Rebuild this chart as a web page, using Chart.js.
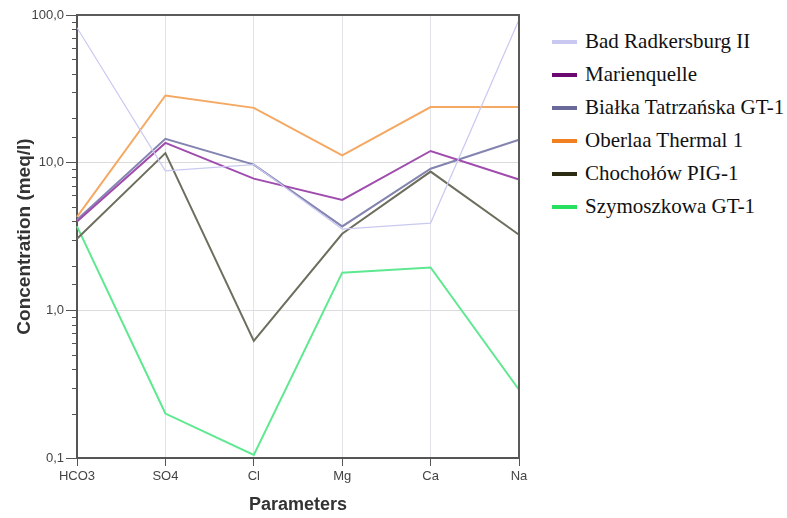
<!DOCTYPE html>
<html lang="en">
<head>
<meta charset="UTF-8">
<title>Concentration by parameter</title>
<script src="https://cdn.jsdelivr.net/npm/chart.js"></script>
<style>
    body { margin: 0; background: #fff; width: 787px; height: 518px; overflow: hidden; position: relative; }
    #wrap { position: absolute; left: 0; top: 0; width: 545px; height: 518px; }
    #legend { position: absolute; left: 552px; top: 25px; font-family: "Liberation Serif", "Times New Roman", serif; font-size: 21px; color: #111; }
    .row { height: 33px; display: flex; align-items: center; white-space: nowrap; }
    .swatch { width: 25px; height: 4px; margin-right: 8px; }
</style>
</head>
<body>
<div id="wrap"><canvas id="chart"></canvas></div>
<div id="legend"></div>
<script>
const parameters = ['HCO3', 'SO4', 'Cl', 'Mg', 'Ca', 'Na'];

// concentrations in meq/l, one array per well / spring
const badRadkersburg = [82, 8.8, 9.7, 3.55, 3.9, 93];
const marienquelle = [4.0, 13.6, 7.8, 5.6, 12.0, 7.7];
const bialka = [4.1, 14.5, 9.7, 3.7, 9.1, 14.3];
const oberlaa = [4.3, 28.5, 23.5, 11.2, 23.8, 23.8];
const chocholow = [3.05, 11.6, 0.62, 3.3, 8.7, 3.25];
const szymoszkowa = [3.7, 0.2, 0.105, 1.8, 1.95, 0.29];

const series = [
    { label: 'Bad Radkersburg II', data: badRadkersburg, line: '#c9c9f2', key: '#c8c8f0', width: 1.2 },
    { label: 'Marienquelle', data: marienquelle, line: '#a04cae', key: '#6a0a70', width: 2 },
    { label: 'Białka Tatrzańska GT-1', data: bialka, line: '#8484b0', key: '#6a6a9a', width: 2 },
    { label: 'Oberlaa Thermal 1', data: oberlaa, line: '#f5a862', key: '#f08020', width: 2 },
    { label: 'Chochołów PIG-1', data: chocholow, line: '#6e6e5e', key: '#2c2c12', width: 2 },
    { label: 'Szymoszkowa GT-1', data: szymoszkowa, line: '#5ee890', key: '#28e060', width: 2 }
];

const isDecade = v => Math.abs(Math.log10(v) - Math.round(Math.log10(v))) < 1e-9;

// top/right frame plus the short minor ticks on the log axis
const framePlugin = {
    id: 'frame',
    afterDatasetsDraw(chart) {
        const { ctx, chartArea: a, scales } = chart;
        ctx.save();
        ctx.strokeStyle = '#5a5a5a';
        ctx.lineWidth = 2;
        ctx.beginPath();
        ctx.moveTo(a.left, a.top);
        ctx.lineTo(a.right, a.top);
        ctx.lineTo(a.right, a.bottom);
        ctx.stroke();
        ctx.lineWidth = 1;
        ctx.strokeStyle = '#555';
        scales.y.ticks.forEach(t => {
            if (isDecade(t.value)) return;
            const y = Math.round(scales.y.getPixelForValue(t.value)) + 0.5;
            ctx.beginPath();
            ctx.moveTo(a.left - 5, y);
            ctx.lineTo(a.left, y);
            ctx.stroke();
        });
        ctx.restore();
    }
};

new Chart(document.getElementById('chart'), {
    type: 'line',
    data: {
        labels: parameters,
        datasets: series.map(s => ({
            label: s.label,
            data: s.data,
            borderColor: s.line,
            backgroundColor: s.line,
            borderWidth: s.width,
            pointRadius: 0,
            tension: 0,
            fill: false
        }))
    },
    options: {
        responsive: true,
        maintainAspectRatio: false,
        animation: false,
        layout: { padding: { left: 0, top: 15, right: 26, bottom: 0 } },
        plugins: { legend: { display: false }, tooltip: { enabled: false } },
        scales: {
            x: {
                grid: { color: '#e2e2ea', tickColor: '#555', tickLength: 8 },
                border: { color: '#555', width: 2 },
                ticks: { color: '#444', padding: 3, font: { family: 'Liberation Sans', size: 13 } },
                title: { display: true, text: 'Parameters', color: '#333', padding: { top: 0, bottom: 2 },
                         font: { family: 'Liberation Sans', size: 18, weight: 'bold' } },
                afterFit: scale => { scale.height = 60; }
            },
            y: {
                type: 'logarithmic',
                min: 0.1,
                max: 100,
                grid: {
                    color: c => isDecade(c.tick.value) ? '#dcdcdc' : 'rgba(0,0,0,0)',
                    tickColor: c => isDecade(c.tick.value) ? '#555' : 'rgba(0,0,0,0)',
                    tickLength: 11
                },
                border: { color: '#555', width: 2 },
                ticks: {
                    autoSkip: false,
                    color: '#444',
                    padding: 2,
                    font: { family: 'Liberation Sans', size: 13 },
                    callback: v => isDecade(v) ? v.toFixed(1).replace('.', ',') : ''
                },
                title: { display: true, text: 'Concentration (meq/l)', color: '#333', padding: { top: 13, bottom: 0 },
                         font: { family: 'Liberation Sans', size: 19, weight: 'bold' } },
                afterFit: scale => { scale.width = 77; }
            }
        }
    },
    plugins: [framePlugin]
});

// legend to the right of the plot
const legend = document.getElementById('legend');
series.forEach(s => {
    const row = document.createElement('div');
    row.className = 'row';
    const sw = document.createElement('span');
    sw.className = 'swatch';
    sw.style.background = s.key;
    const txt = document.createElement('span');
    txt.textContent = s.label;
    row.appendChild(sw);
    row.appendChild(txt);
    legend.appendChild(row);
});
</script>
</body>
</html>
